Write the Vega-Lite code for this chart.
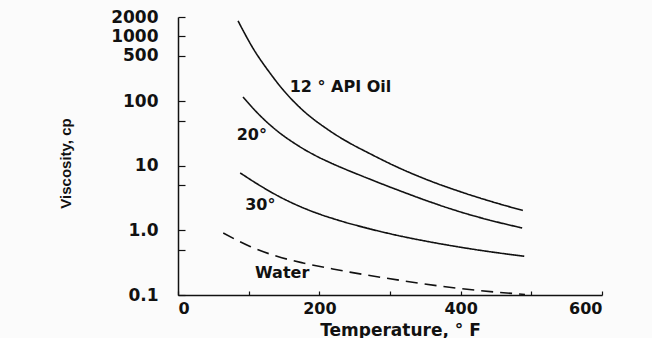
{
  "$schema": "https://vega.github.io/schema/vega-lite/v6.json",
  "width": 424,
  "height": 278,
  "autosize": "none",
  "padding": {"left": 178, "top": 17, "right": 50, "bottom": 43},
  "background": "#fbfbfb",
  "config": {
    "view": {"stroke": null},
    "axis": {
      "grid": false,
      "domainColor": "#111",
      "domainWidth": 1.5,
      "tickColor": "#111",
      "tickWidth": 1.2,
      "labelColor": "#111",
      "titleColor": "#111",
      "labelFont": "DejaVu Sans",
      "labelFontWeight": "bold",
      "titleFont": "DejaVu Sans",
      "titleFontWeight": "bold"
    }
  },
  "datasets": {
    "curves": [
      {"series": "12° API Oil", "t": 85, "mu": 1738},
      {"series": "12° API Oil", "t": 106, "mu": 661},
      {"series": "12° API Oil", "t": 130, "mu": 273},
      {"series": "12° API Oil", "t": 149, "mu": 148},
      {"series": "12° API Oil", "t": 173, "mu": 78.5},
      {"series": "12° API Oil", "t": 215, "mu": 34.5},
      {"series": "12° API Oil", "t": 248, "mu": 20.9},
      {"series": "12° API Oil", "t": 267, "mu": 16.3},
      {"series": "12° API Oil", "t": 310, "mu": 9.55},
      {"series": "12° API Oil", "t": 357, "mu": 5.81},
      {"series": "12° API Oil", "t": 403, "mu": 3.85},
      {"series": "12° API Oil", "t": 451, "mu": 2.64},
      {"series": "12° API Oil", "t": 488, "mu": 2.03},
      {"series": "20°", "t": 92, "mu": 116},
      {"series": "20°", "t": 116, "mu": 59.8},
      {"series": "20°", "t": 140, "mu": 34.8},
      {"series": "20°", "t": 168, "mu": 21.1},
      {"series": "20°", "t": 197, "mu": 13.9},
      {"series": "20°", "t": 215, "mu": 11.2},
      {"series": "20°", "t": 262, "mu": 6.82},
      {"series": "20°", "t": 310, "mu": 4.25},
      {"series": "20°", "t": 357, "mu": 2.75},
      {"series": "20°", "t": 403, "mu": 1.88},
      {"series": "20°", "t": 451, "mu": 1.35},
      {"series": "20°", "t": 487, "mu": 1.09},
      {"series": "30°", "t": 88, "mu": 7.74},
      {"series": "30°", "t": 116, "mu": 4.93},
      {"series": "30°", "t": 144, "mu": 3.30},
      {"series": "30°", "t": 173, "mu": 2.33},
      {"series": "30°", "t": 201, "mu": 1.77},
      {"series": "30°", "t": 222, "mu": 1.49},
      {"series": "30°", "t": 262, "mu": 1.12},
      {"series": "30°", "t": 310, "mu": 0.838},
      {"series": "30°", "t": 357, "mu": 0.661},
      {"series": "30°", "t": 403, "mu": 0.541},
      {"series": "30°", "t": 423, "mu": 0.50},
      {"series": "30°", "t": 490, "mu": 0.397},
      {"series": "Water", "t": 64, "mu": 0.912},
      {"series": "Water", "t": 102, "mu": 0.564},
      {"series": "Water", "t": 140, "mu": 0.397},
      {"series": "Water", "t": 177, "mu": 0.313},
      {"series": "Water", "t": 219, "mu": 0.253},
      {"series": "Water", "t": 243, "mu": 0.226},
      {"series": "Water", "t": 314, "mu": 0.169},
      {"series": "Water", "t": 342, "mu": 0.152},
      {"series": "Water", "t": 399, "mu": 0.126},
      {"series": "Water", "t": 491, "mu": 0.102}
    ],
    "labels": [
      {"text": "12 ° API Oil", "t": 158, "mu": 166},
      {"text": "20°", "t": 83, "mu": 30},
      {"text": "30°", "t": 95, "mu": 2.47},
      {"text": "Water", "t": 109, "mu": 0.22}
    ]
  },
  "layer": [
    {
      "data": {"name": "curves"},
      "mark": {"type": "line", "color": "#111", "strokeWidth": 1.6, "interpolate": "monotone", "clip": false},
      "encoding": {
        "x": {
          "field": "t", "type": "quantitative",
          "scale": {"domain": [0, 600], "nice": false},
          "axis": {
            "title": "Temperature, ° F",
            "values": [0, 100, 200, 300, 400, 500, 600],
            "labelExpr": "datum.value % 200 == 0 ? datum.label : ''",
            "tickSize": -4,
            "labelPadding": 9,
            "labelFontSize": 16,
            "titleFontSize": 17,
            "titleX": 222,
            "titleY": 40,
            "titleBaseline": "alphabetic",
            "titleAnchor": "middle"
          }
        },
        "y": {
          "field": "mu", "type": "quantitative",
          "scale": {"type": "log", "domain": [0.1, 2000], "nice": false},
          "axis": {
            "title": "Viscosity, cp",
            "values": [0.1, 0.5, 1, 5, 10, 50, 100, 500, 1000, 2000],
            "labelExpr": "datum.value == 0.5 || datum.value == 5 || datum.value == 50 ? '' : (datum.value == 1 ? '1.0' : (datum.value == 0.1 ? '0.1' : format(datum.value, 'd')))",
            "tickSize": -7,
            "labelPadding": 27,
            "labelFontSize": 17,
            "titleFont": "Liberation Sans",
            "titleFontSize": 15,
            "titleX": -113,
            "titleY": 146,
            "titleAngle": -90,
            "titleBaseline": "middle",
            "titleAnchor": "middle"
          }
        },
        "detail": {"field": "series"},
        "strokeDash": {
          "field": "series",
          "scale": {"domain": ["12° API Oil", "20°", "30°", "Water"], "range": [[1, 0], [1, 0], [1, 0], [12, 7]]},
          "legend": null
        }
      }
    },
    {
      "data": {"name": "labels"},
      "mark": {"type": "text", "align": "left", "baseline": "middle", "font": "DejaVu Sans", "fontWeight": "bold", "fontSize": 16, "color": "#111"},
      "encoding": {
        "x": {"field": "t", "type": "quantitative"},
        "y": {"field": "mu", "type": "quantitative"},
        "text": {"field": "text"}
      }
    }
  ]
}
